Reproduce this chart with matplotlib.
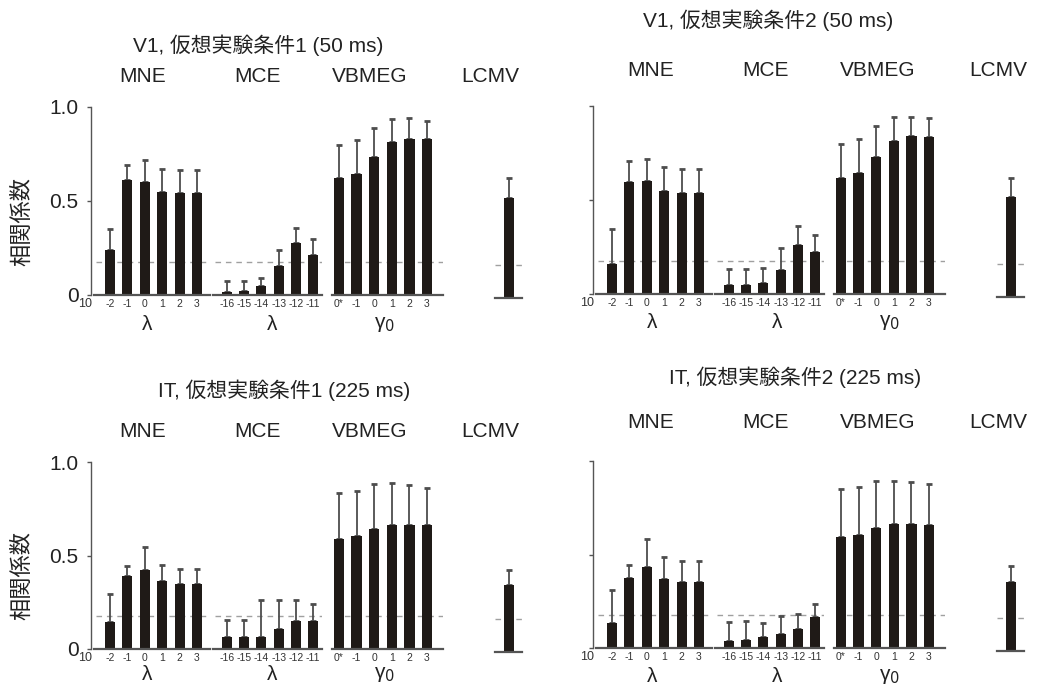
import matplotlib
matplotlib.use("Agg")
import matplotlib.pyplot as plt
import numpy as np

plt.rcParams['font.family'] = ['Liberation Sans', 'Noto Sans CJK JP', 'DejaVu Sans']

W, H = 1046, 697

# ---------------- data ----------------
mne_ticks = ['-2', '-1', '0', '1', '2', '3']
mce_ticks = ['-16', '-15', '-14', '-13', '-12', '-11']
vb_ticks = ['0*', '-1', '0', '1', '2', '3']
group_names = ['MNE', 'MCE', 'VBMEG', 'LCMV']
titles = ['V1, 仮想実験条件1 (50 ms)', 'V1, 仮想実験条件2 (50 ms)',
          'IT, 仮想実験条件1 (225 ms)', 'IT, 仮想実験条件2 (225 ms)']
ylabel = '相関係数'
chance = 0.177

# panel 1: V1 condition 1
p1_mne = [0.24, 0.61, 0.60, 0.55, 0.54, 0.54]
p1_mne_err = [0.11, 0.08, 0.12, 0.12, 0.125, 0.125]
p1_mce = [0.016, 0.019, 0.048, 0.156, 0.274, 0.214]
p1_mce_err = [0.058, 0.055, 0.044, 0.086, 0.085, 0.082]
p1_vb = [0.62, 0.645, 0.733, 0.812, 0.832, 0.828]
p1_vb_err = [0.18, 0.18, 0.155, 0.124, 0.108, 0.10]
p1_lcmv = [0.534]
p1_lcmv_err = [0.103]

# panel 2: V1 condition 2
p2_mne = [0.160, 0.598, 0.602, 0.549, 0.535, 0.535]
p2_mne_err = [0.184, 0.11, 0.118, 0.125, 0.128, 0.128]
p2_mce = [0.050, 0.050, 0.057, 0.126, 0.259, 0.222]
p2_mce_err = [0.081, 0.081, 0.080, 0.12, 0.104, 0.092]
p2_vb = [0.615, 0.642, 0.730, 0.812, 0.842, 0.837]
p2_vb_err = [0.183, 0.182, 0.164, 0.128, 0.101, 0.097]
p2_lcmv = [0.532]
p2_lcmv_err = [0.103]

# panel 3: IT condition 1
p3_mne = [0.143, 0.392, 0.424, 0.364, 0.348, 0.348]
p3_mne_err = [0.149, 0.054, 0.121, 0.085, 0.078, 0.078]
p3_mce = [0.062, 0.064, 0.064, 0.107, 0.152, 0.152]
p3_mce_err = [0.091, 0.091, 0.198, 0.155, 0.110, 0.090]
p3_vb = [0.588, 0.602, 0.643, 0.663, 0.663, 0.661]
p3_vb_err = [0.246, 0.245, 0.238, 0.225, 0.212, 0.200]
p3_lcmv = [0.360]
p3_lcmv_err = [0.077]

# panel 4: IT condition 2
p4_mne = [0.132, 0.372, 0.432, 0.370, 0.351, 0.351]
p4_mne_err = [0.179, 0.071, 0.150, 0.119, 0.113, 0.113]
p4_mce = [0.037, 0.044, 0.059, 0.077, 0.101, 0.164]
p4_mce_err = [0.100, 0.098, 0.073, 0.094, 0.082, 0.069]
p4_vb = [0.593, 0.603, 0.644, 0.664, 0.664, 0.657]
p4_vb_err = [0.259, 0.260, 0.249, 0.231, 0.224, 0.220]
p4_lcmv = [0.368]
p4_lcmv_err = [0.088]

# ---------------- layout (pixels) ----------------
BAR = '#1f1a17'
ERR = '#4d4d4d'
SPINE = '#555555'
DASH = '#a0a0a0'

fig = plt.figure(figsize=(W / 100, H / 100), dpi=100)
fig.patch.set_facecolor('white')


def fx(px):
    return px / W


def fy(py):
    return 1 - py / H


def ftext(x, y, s, **kw):
    fig.text(fx(x), fy(y), s, **kw)


# group geometry for left panels: (first center, last center, baseline left, baseline right)
groups_left = [(110, 197, 94, 210), (227, 313, 213, 322), (339, 427, 332, 443)]
lcmv_left = (509, 495, 522)
spine_left = 91

panels = [
    dict(dx=0, y0=295, y1=107, ly0=298, data=(p1_mne, p1_mne_err, p1_mce, p1_mce_err, p1_vb, p1_vb_err, p1_lcmv, p1_lcmv_err),
         title=(258, 45), grp_y=76, lam_y=325, ylab=True),
    dict(dx=502, y0=294, y1=106, ly0=297, data=(p2_mne, p2_mne_err, p2_mce, p2_mce_err, p2_vb, p2_vb_err, p2_lcmv, p2_lcmv_err),
         title=(768, 20), grp_y=70, lam_y=323, ylab=False),
    dict(dx=0, y0=649, y1=462, ly0=652, data=(p3_mne, p3_mne_err, p3_mce, p3_mce_err, p3_vb, p3_vb_err, p3_lcmv, p3_lcmv_err),
         title=(284, 390), grp_y=432, lam_y=674, ylab=True),
    dict(dx=502, y0=648, y1=461, ly0=651, data=(p4_mne, p4_mne_err, p4_mce, p4_mce_err, p4_vb, p4_vb_err, p4_lcmv, p4_lcmv_err),
         title=(795, 377), grp_y=422, lam_y=677, ylab=False),
]

tick_sets = [mne_ticks, mce_ticks, vb_ticks]
grp_label_x = [143, 258, 370, 490]
lam_x = [147, 272, 385]
lam_txt = ['λ', 'λ', 'γ$_{0}$']


def draw_bars(ax, means, errs):
    x = np.arange(len(means))
    ax.bar(x, means, width=0.58, color=BAR, zorder=3)
    ax.errorbar(x, means, yerr=[np.zeros(len(errs)), errs], fmt='none',
                ecolor=ERR, elinewidth=1.3, capsize=2.3, capthick=2.0, zorder=2)


for pi, P in enumerate(panels):
    dx = P['dx']
    y0, y1 = P['y0'], P['y1']
    hpx = y0 - y1
    d = P['data']
    series = [(d[0], d[1]), (d[2], d[3]), (d[4], d[5])]
    for gi, (first, last, bl, br) in enumerate(groups_left):
        first += dx; last += dx; bl += dx; br += dx
        s = (last - first) / 5.0
        left_px = spine_left + dx if gi == 0 else bl
        ax = fig.add_axes([fx(left_px), fy(y0), (br - left_px) / W, hpx / H])
        ax.set_xlim((left_px - first) / s, (br - first) / s)
        ax.set_ylim(0, 1.0)
        draw_bars(ax, *series[gi])
        b0 = (bl - first) / s
        b1 = (br - first) / s
        ax.hlines(chance, b0 + 0.1, b1, colors=DASH, linestyles=(0, (4, 3.5)), linewidth=1.0, zorder=1)
        for sp in ['top', 'right']:
            ax.spines[sp].set_visible(False)
        ax.spines['bottom'].set_bounds(b0, b1)
        ax.spines['bottom'].set_color(SPINE)
        ax.spines['bottom'].set_linewidth(1.6)
        ax.spines['bottom'].set_zorder(4)
        ax.set_xticks(range(6))
        ax.set_xticklabels(tick_sets[gi], fontsize=7.5, color='#333333')
        ax.tick_params(axis='x', length=0, pad=3)
        ax.patch.set_alpha(0)
        if gi == 0:
            ax.spines['left'].set_color(SPINE)
            ax.spines['left'].set_linewidth(1.0)
            ax.set_yticks([0, 0.5, 1.0])
            ax.tick_params(axis='y', length=3, width=1.0, color=SPINE, direction='out', pad=6)
            if P['ylab']:
                ax.set_yticklabels(['0', '0.5', '1.0'], fontsize=15, color='#222222')
            else:
                ax.set_yticklabels([])
        else:
            ax.spines['left'].set_visible(False)
            ax.set_yticks([])
    # LCMV
    lc, ll, lr = lcmv_left
    lc += dx; ll += dx; lr += dx
    s = 17.4
    ly0 = P['ly0']
    ax = fig.add_axes([fx(ll), fy(ly0), (lr - ll) / W, hpx / H])
    ax.set_xlim((ll - lc) / s, (lr - lc) / s)
    ax.set_ylim(0, 1.0)
    draw_bars(ax, d[6], d[7])
    ax.hlines(chance, (ll - lc) / s, (lr - lc) / s, colors=DASH, linestyles=(0, (4, 3.5)), linewidth=1.0, zorder=1)
    for sp in ['top', 'right', 'left']:
        ax.spines[sp].set_visible(False)
    ax.spines['bottom'].set_color(SPINE)
    ax.spines['bottom'].set_linewidth(1.6)
    ax.spines['bottom'].set_zorder(4)
    ax.set_xticks([])
    ax.set_yticks([])
    ax.patch.set_alpha(0)

    # texts
    tx, ty = P['title']
    ftext(tx, ty, titles[pi], ha='center', va='center', fontsize=15, color='#222222')
    for gi, name in enumerate(group_names):
        ftext(grp_label_x[gi] + dx + (6 if dx else 0), P['grp_y'], name, ha='center', va='center',
              fontsize=15, color='#222222')
    for li, lt in enumerate(lam_txt):
        ftext(lam_x[li] + dx + (3 if dx else 0), P['lam_y'], lt, ha='center', va='center',
              fontsize=15, color='#222222')
    ftext(92 + dx, y0 + 9, '10', ha='right', va='center', fontsize=9, color='#333333')
    if P['ylab']:
        ftext(23, (y0 + y1) / 2 + 20, ylabel, ha='center', va='center', rotation=90,
              fontsize=16, color='#222222')

fig.savefig('out.png', dpi=100)
